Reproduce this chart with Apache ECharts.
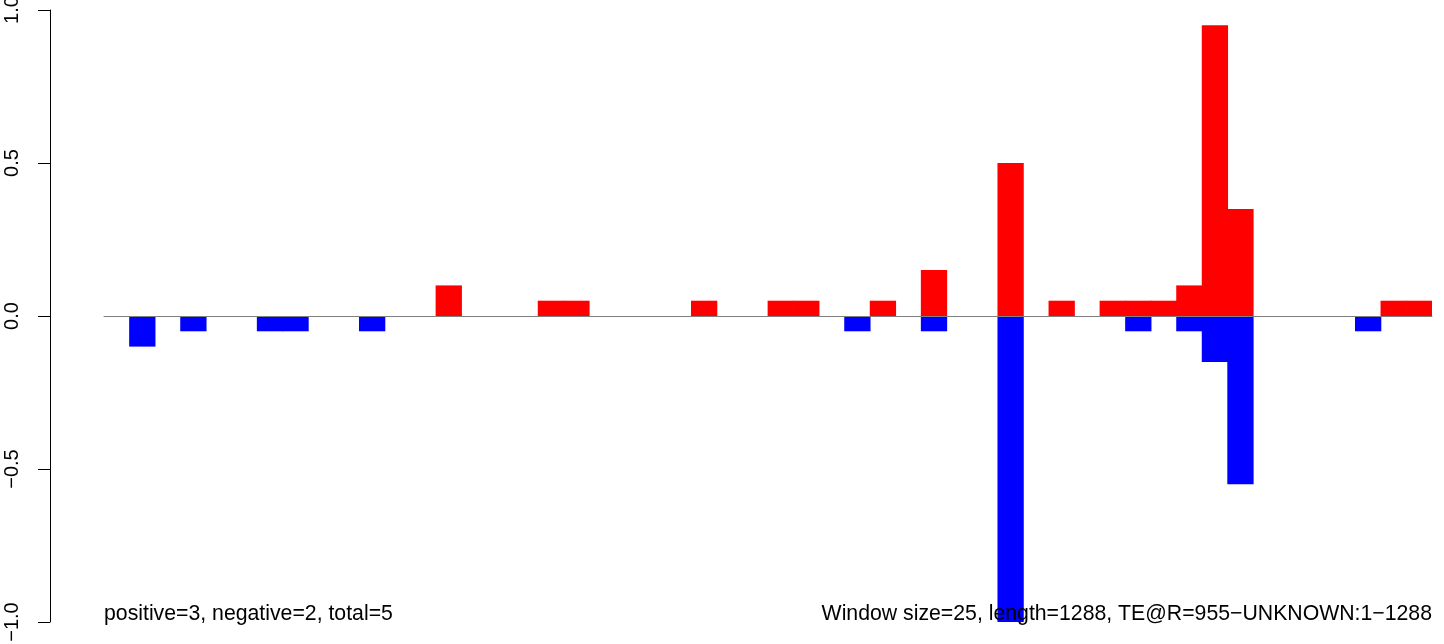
<!DOCTYPE html>
<html>
<head>
<meta charset="utf-8">
<script src="https://cdn.jsdelivr.net/npm/echarts@6/dist/echarts.min.js"></script>
<style>
html,body{margin:0;padding:0;background:#fff;}
#chart{width:1444px;height:644px;}
</style>
</head>
<body>
<div id="chart"></div>
<script>
// 52 windows of size 25 over length 1288 (window start positions)
const windowStarts = [1,26,51,76,101,126,151,176,201,226,251,276,301,326,351,376,401,426,451,476,501,526,551,576,601,626,651,676,701,726,751,776,801,826,851,876,901,926,951,976,1001,1026,1051,1076,1101,1126,1151,1176,1201,1226,1251,1276];
// positive (red) values per window
const positiveValues = [0,0,0,0,0,0,0,0,0,0,0,0,0,0.1,0,0,0,0.05,0.05,0,0,0,0,0.05,0,0,0.05,0.05,0,0,0.05,0,0.15,0,0,0.5,0,0.05,0,0.05,0.05,0.05,0.1,0.95,0.35,0,0,0,0,0,0.05,0.05];
// negative (blue) values per window
const negativeValues = [0,-0.1,0,-0.05,0,0,-0.05,-0.05,0,0,-0.05,0,0,0,0,0,0,0,0,0,0,0,0,0,0,0,0,0,0,-0.05,0,0,-0.05,0,0,-1.0,0,0,0,0,-0.05,0,-0.05,-0.15,-0.55,0,0,0,0,-0.05,0,0];
const yTicks = [-1.0,-0.5,0.0,0.5,1.0];
const leftNote = 'positive=3, negative=2, total=5';
const rightNote = 'Window size=25, length=1288, TE@R=955\u2212UNKNOWN:1\u22121288';

const FONT = '"Liberation Sans", Arial, Helvetica, sans-serif';
const chart = echarts.init(document.getElementById('chart'), null, {renderer:'canvas'});
const gridLeft = 104, gridRight = 12, gridTop = 10, gridBottom = 22;
chart.setOption({
  animation: false,
  backgroundColor: '#ffffff',
  grid: {left: gridLeft, right: gridRight, top: gridTop, bottom: gridBottom, containLabel: false, outerBoundsMode: 'none'},
  xAxis: {
    type: 'category',
    data: windowStarts,
    boundaryGap: true,
    z: 10,
    axisLine: {show: true, onZero: true, lineStyle: {color: '#808080', width: 1}},
    axisTick: {show: false},
    axisLabel: {show: false},
    splitLine: {show: false}
  },
  yAxis: {
    type: 'value',
    min: -1, max: 1, interval: 0.5,
    offset: gridLeft - 50,
    axisLine: {show: true, lineStyle: {color: '#000', width: 1}},
    axisTick: {show: true, length: 12, lineStyle: {color: '#000', width: 1}},
    axisLabel: {
      show: true, rotate: 90, margin: 28,
      fontFamily: FONT, fontSize: 20, color: '#000',
      formatter: function (v) {
        const t = yTicks.find(x => Math.abs(x - v) < 1e-9);
        const s = (t === undefined ? v : t).toFixed(1);
        return s.replace('-', '\u2212');
      }
    },
    splitLine: {show: false}
  },
  series: [
    {
      name: 'positive', type: 'bar', data: positiveValues,
      barWidth: '103%', barGap: '-100%', barCategoryGap: 0,
      itemStyle: {color: '#ff0000'}, z: 2
    },
    {
      name: 'negative', type: 'bar', data: negativeValues,
      barWidth: '103%', barGap: '-100%', barCategoryGap: 0,
      itemStyle: {color: '#0000ff'}, z: 2
    }
  ],
  graphic: [
    {type: 'text', z: 100, left: gridLeft, top: 604,
     style: {text: leftNote, font: '21.25px ' + FONT, fill: '#000'}},
    {type: 'text', z: 100, right: gridRight, top: 604,
     style: {text: rightNote, font: '21.25px ' + FONT, fill: '#000'}}
  ]
});
</script>
</body>
</html>
